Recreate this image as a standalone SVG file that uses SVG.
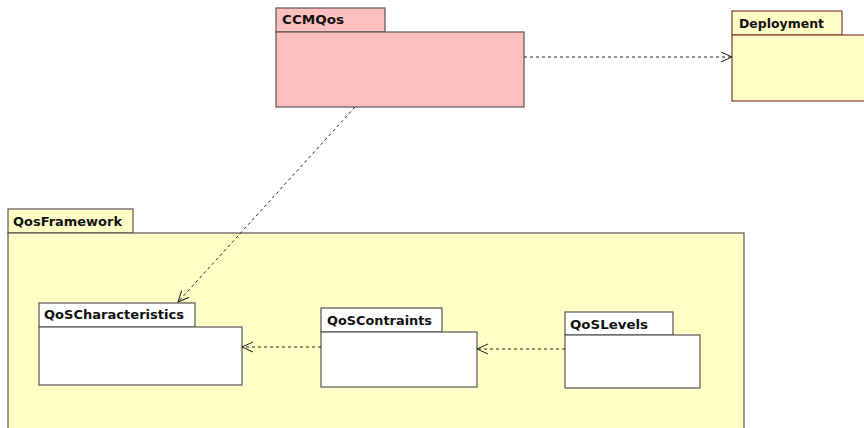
<svg xmlns="http://www.w3.org/2000/svg" width="864" height="428" viewBox="0 0 864 428">
<style>
.pk{stroke:#555;stroke-width:1.2}
.pink{fill:#FFBFBF}
.yel{fill:#FFFFC6}
.wht{fill:#FFFFFF}
.dep{stroke:#8B3A2E;stroke-width:1.2}
.lbl{font-family:"DejaVu Sans",Verdana,sans-serif;font-weight:bold;font-size:12px;fill:#111}
.conn{fill:none;stroke:#222;stroke-width:1;stroke-dasharray:3,3}
</style>
<defs>
<marker id="open" markerWidth="14" markerHeight="12" refX="12" refY="6" orient="auto" markerUnits="userSpaceOnUse">
<path d="M1,1 L12,6 L1,11" fill="none" stroke="#222" stroke-width="1"/>
</marker>
</defs>
<rect width="864" height="428" fill="#fff"/>
<g id="QosFramework">
<rect class="pk yel" x="8" y="209" width="125" height="24"/>
<rect class="pk yel" x="8" y="233" width="736" height="200"/>
<text class="lbl" x="13" y="226" textLength="109" lengthAdjust="spacingAndGlyphs">QosFramework</text>
</g>
<g id="CCMQos">
<rect class="pk pink" x="276" y="8" width="109" height="24"/>
<rect class="pk pink" x="276" y="32" width="248" height="75"/>
<text class="lbl" x="282" y="24" textLength="62" lengthAdjust="spacingAndGlyphs">CCMQos</text>
</g>
<g id="Deployment">
<rect class="dep yel" x="732" y="11" width="110" height="24"/>
<rect class="dep yel" x="732" y="35" width="140" height="66"/>
<text class="lbl" x="739" y="28" textLength="85" lengthAdjust="spacingAndGlyphs">Deployment</text>
</g>
<g id="QoSCharacteristics">
<rect class="pk wht" x="39" y="303" width="156" height="24"/>
<rect class="pk wht" x="39" y="327" width="203" height="58"/>
<text class="lbl" x="44" y="319" textLength="140" lengthAdjust="spacingAndGlyphs">QoSCharacteristics</text>
</g>
<g id="QoSContraints">
<rect class="pk wht" x="321" y="308" width="121" height="24"/>
<rect class="pk wht" x="321" y="332" width="156" height="55"/>
<text class="lbl" x="327" y="325" textLength="105" lengthAdjust="spacingAndGlyphs">QoSContraints</text>
</g>
<g id="QoSLevels">
<rect class="pk wht" x="565" y="312" width="108" height="23"/>
<rect class="pk wht" x="565" y="335" width="135" height="53"/>
<text class="lbl" x="570" y="329" textLength="78" lengthAdjust="spacingAndGlyphs">QoSLevels</text>
</g>
<g id="connectors">
<line class="conn" x1="524" y1="57" x2="732" y2="57" marker-end="url(#open)"/>
<line class="conn" x1="355" y1="107" x2="178" y2="302" marker-end="url(#open)"/>
<line class="conn" x1="321" y1="347" x2="242" y2="347" marker-end="url(#open)"/>
<line class="conn" x1="565" y1="349" x2="477" y2="349" marker-end="url(#open)"/>
</g>
</svg>
